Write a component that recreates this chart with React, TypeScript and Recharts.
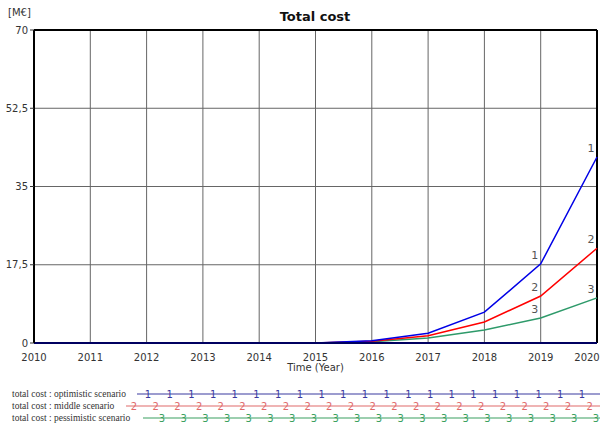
import React from 'react';
import { LineChart, Line, XAxis, YAxis, CartesianGrid, ReferenceLine, LabelList } from 'recharts';

const years = [2010, 2011, 2012, 2013, 2014, 2015, 2016, 2017, 2018, 2019, 2020];
const optimistic = [0, 0, 0, 0, 0, 0, 0.5, 2.2, 6.9, 17.7, 41.6];
const middle = [0, 0, 0, 0, 0, 0, 0.4, 1.6, 4.7, 10.5, 21.2];
const pessimistic = [0, 0, 0, 0, 0, 0, 0.3, 1.1, 2.9, 5.6, 10.1];
const yTicks = [0, 17.5, 35, 52.5, 70];

const series = [
  { key: 'opt', label: 'total cost : optimistic scenario', mark: '1', color: '#0000e6', legendColor: '#3a3aa0', start: 137, first: 148 },
  { key: 'mid', label: 'total cost : middle scenario', mark: '2', color: '#ff0000', legendColor: '#e06a6a', start: 126, first: 134 },
  { key: 'pes', label: 'total cost : pessimistic scenario', mark: '3', color: '#2e9a6a', legendColor: '#3aa060', start: 143, first: 162 },
];

const data = years.map((y, i) => ({ year: y, opt: optimistic[i], mid: middle[i], pes: pessimistic[i] }));

const font = 'Tahoma, "DejaVu Sans", sans-serif';

// only the last two points carry the series number
const NumLabel = (mark: string) => (props: any) => {
  const { x, y, index } = props;
  if (index < years.length - 2) return null;
  return (
    <text x={x - 6} y={y - 5} fill="#555" fontSize={11} fontFamily={font} textAnchor="middle">
      {mark}
    </text>
  );
};

const YearTick = (props: any) => {
  const { x, y, payload } = props;
  const last = payload.value === years[years.length - 1];
  return (
    <text x={last ? x - 4 : x} y={y + 10} fill="#333" fontSize={10} fontFamily={font} textAnchor="middle">
      {payload.value}
    </text>
  );
};

const Legend = () => (
  <svg width={607} height={46} style={{ display: 'block' }}>
    {series.map((s, r) => {
      const y = 14 + r * 12;
      const marks = [];
      for (let x = s.first; x < 600; x += 21.7) marks.push(x);
      return (
        <g key={s.key}>
          <text x={12} y={y + 3} fontSize={9.5} fontFamily='"Liberation Serif", serif' fill="#333">
            {s.label}
          </text>
          <line x1={s.start} x2={600} y1={y} y2={y} stroke={s.legendColor} strokeWidth={1.2} />
          {marks.map((mx, i) => (
            <text key={i} x={mx} y={y + 4} fontSize={10} fontFamily={font} fill={s.legendColor} textAnchor="middle">
              {s.mark}
            </text>
          ))}
        </g>
      );
    })}
  </svg>
);

export default function App() {
  return (
    <div style={{ position: 'absolute', left: 0, top: 0, width: 607, height: 426, background: '#fff', fontFamily: font }}>
      <div style={{ position: 'absolute', left: 8, top: 7, fontSize: 10, color: '#333' }}>[M€]</div>
      <div style={{ position: 'absolute', left: 0, width: 630, top: 9, textAlign: 'center', fontSize: 13, fontWeight: 'bold', color: '#111' }}>
        Total cost
      </div>
      <LineChart width={607} height={380} data={data} margin={{ top: 30, right: 10, left: 0, bottom: 7 }}>
        <CartesianGrid stroke="#666" strokeWidth={1} />
        <XAxis
          dataKey="year"
          type="number"
          domain={[2010, 2020]}
          ticks={years}
          tickLine={false}
          axisLine={{ stroke: '#000060', strokeWidth: 2 }}
          tick={<YearTick />}
          height={30}
          label={{ value: 'Time (Year)', position: 'insideBottom', offset: 2, fontSize: 10, fill: '#333', fontFamily: font }}
        />
        <YAxis
          type="number"
          domain={[0, 70]}
          ticks={yTicks}
          width={34}
          tickSize={4}
          tickLine={{ stroke: '#333' }}
          axisLine={{ stroke: '#000', strokeWidth: 2 }}
          tick={{ fontSize: 10, fill: '#333', fontFamily: font }}
          tickFormatter={(v: number) => String(v).replace('.', ',')}
        />
        <ReferenceLine y={70} stroke="#000" strokeWidth={2} />
        <ReferenceLine x={2020} stroke="#000" strokeWidth={2} />
        <Line dataKey="pes" stroke={series[2].color} strokeWidth={1.5} dot={false} isAnimationActive={false}>
          <LabelList dataKey="pes" content={NumLabel('3')} />
        </Line>
        <Line dataKey="mid" stroke={series[1].color} strokeWidth={1.5} dot={false} isAnimationActive={false}>
          <LabelList dataKey="mid" content={NumLabel('2')} />
        </Line>
        <Line dataKey="opt" stroke={series[0].color} strokeWidth={1.5} dot={false} isAnimationActive={false}>
          <LabelList dataKey="opt" content={NumLabel('1')} />
        </Line>
      </LineChart>
      <Legend />
    </div>
  );
}
